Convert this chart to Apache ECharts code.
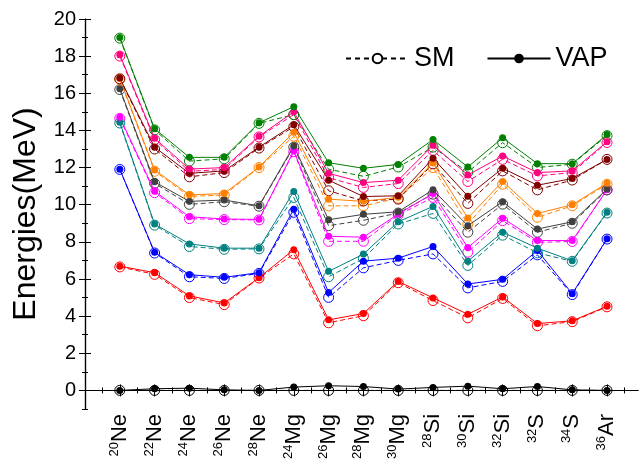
<!DOCTYPE html>
<html>
<head>
<meta charset="utf-8">
<script src="https://cdn.jsdelivr.net/npm/echarts@6/dist/echarts.min.js"></script>
<style>
html,body{margin:0;padding:0;background:#fff;}
#chart{width:641px;height:462px;}
</style>
</head>
<body>
<div id="chart"></div>
<script>
// Categories (nuclei): mass number + element symbol
const massNumbers = ['20','22','24','26','28','24','26','28','30','28','30','32','32','34','36'];
const elements    = ['Ne','Ne','Ne','Ne','Ne','Mg','Mg','Mg','Mg','Si','Si','Si','S','S','Ar'];

// Y tick labels
const yTicks = [0,2,4,6,8,10,12,14,16,18,20];

// Series values (MeV) — SM (dashed, open circles) and VAP (solid, filled dots)
const blackVAP   = [0,0.09,0.12,0.03,0.0,0.18,0.25,0.21,0.07,0.16,0.23,0.09,0.21,0.03,0];
const blackSM    = [0,0,0,0,0,0,0,0,0,0,0,0,0,0,0];
const redVAP     = [6.69,6.34,5.09,4.71,6.07,7.58,3.80,4.14,5.87,4.98,4.10,5.03,3.60,3.75,4.53];
const redSM      = [6.65,6.25,5.00,4.62,6.05,7.35,3.64,4.02,5.80,4.84,3.91,4.95,3.48,3.70,4.50];
const blueVAP    = [11.91,7.44,6.23,6.09,6.34,9.76,5.27,6.96,7.12,7.75,5.73,5.98,7.53,5.21,8.16];
const blueSM     = [11.90,7.40,6.12,6.03,6.30,9.59,5.01,6.60,7.00,7.35,5.52,5.87,7.30,5.16,8.15];
const tealVAP    = [14.44,8.96,7.89,7.66,7.66,10.71,6.41,7.34,9.08,9.91,6.96,8.52,7.66,6.98,9.59];
const tealSM     = [14.40,8.90,7.75,7.60,7.62,10.39,6.12,7.10,8.96,9.53,6.73,8.36,7.41,6.95,9.55];
const magentaVAP = [14.71,10.73,9.35,9.23,9.21,12.90,8.30,8.25,9.50,10.60,7.69,9.27,8.07,8.07,10.80];
const magentaSM  = [14.65,10.65,9.25,9.20,9.18,12.85,8.03,8.03,9.45,10.39,7.44,9.14,7.97,8.02,10.80];
const grayVAP    = [16.25,11.23,10.18,10.25,9.94,13.16,9.19,9.48,9.62,10.80,8.87,10.16,8.69,9.08,10.84];
const graySM     = [16.20,11.15,10.02,10.16,9.92,13.10,8.87,9.16,9.55,10.57,8.52,10.03,8.52,9.00,10.80];
const orangeVAP  = [16.80,11.87,10.53,10.60,12.03,13.90,10.30,10.18,10.40,12.25,9.28,11.25,9.53,10.00,11.16];
const orangeSM   = [16.75,11.80,10.45,10.52,12.00,13.69,9.94,9.94,10.35,12.00,8.95,11.10,9.32,9.94,11.10];
const maroonVAP  = [16.82,13.10,11.69,11.82,13.10,14.30,11.32,10.44,10.48,12.50,10.46,11.96,11.05,11.41,12.44];
const maroonSM   = [16.78,13.00,11.50,11.73,13.05,14.20,10.75,10.20,10.30,12.20,10.07,11.82,10.80,11.33,12.44];
const pinkVAP    = [18.07,13.58,11.92,12.00,13.69,15.00,11.69,11.19,11.32,13.20,11.60,12.62,11.73,11.82,13.39];
const pinkSM     = [18.00,13.50,11.80,11.90,13.65,14.85,11.45,10.93,11.14,12.92,11.25,12.44,11.55,11.73,13.35];
const greenVAP   = [19.01,14.09,12.55,12.55,14.41,15.28,12.26,11.96,12.17,13.51,12.03,13.60,12.21,12.21,13.78];
const greenSM    = [18.97,14.03,12.35,12.47,14.38,14.85,11.91,11.53,12.03,13.10,11.75,13.34,12.00,12.18,13.72];

const groups = [
  {color:'#000000', sm:blackSM,   vap:blackVAP},
  {color:'#FF0000', sm:redSM,     vap:redVAP},
  {color:'#0000FF', sm:blueSM,    vap:blueVAP},
  {color:'#008080', sm:tealSM,    vap:tealVAP},
  {color:'#FF00FF', sm:magentaSM, vap:magentaVAP},
  {color:'#404040', sm:graySM,    vap:grayVAP},
  {color:'#FF8000', sm:orangeSM,  vap:orangeVAP},
  {color:'#800000', sm:maroonSM,  vap:maroonVAP},
  {color:'#FF0080', sm:pinkSM,    vap:pinkVAP},
  {color:'#008000', sm:greenSM,   vap:greenVAP}
];

const xPos = massNumbers.map((_, i) => i + 1);
const xMinor = [];
for (let i = 0; i <= 15; i++) xMinor.push(i + 0.5);
const yMinor = [];
for (let v = -1; v <= 19; v += 2) yMinor.push(v);

const FONT = 'Liberation Sans, Arial, sans-serif';
const toData = arr => arr.map((v, i) => [xPos[i], v]);

const series = [];
groups.forEach(g => {
  series.push({
    type:'line', name:'SM_' + g.color, data: toData(g.sm),
    symbol:'circle', symbolSize:10, z:2,
    itemStyle:{color:'rgba(255,255,255,0)', borderColor:g.color, borderWidth:1},
    lineStyle:{color:g.color, width:1, type:[5,3]},
    emphasis:{disabled:true}
  });
  series.push({
    type:'line', name:'VAP_' + g.color, data: toData(g.vap),
    symbol:'circle', symbolSize:7, z:3,
    itemStyle:{color:g.color, borderWidth:0},
    lineStyle:{color:g.color, width:1, type:'solid'},
    emphasis:{disabled:true}
  });
});
// legend-only series
series.push({
  type:'line', name:'SM', data:[], symbol:'circle', symbolSize:9,
  itemStyle:{color:'#fff', borderColor:'#000', borderWidth:1},
  lineStyle:{color:'#000', width:1, type:[5,4]}
});
series.push({
  type:'line', name:'VAP', data:[], symbol:'circle', symbolSize:6,
  itemStyle:{color:'#000', borderWidth:0},
  lineStyle:{color:'#000', width:1, type:'solid'}
});

const GRID = {left:85, top:19, width:553, height:392};
const xBase = {type:'value', min:0, max:15.89, gridIndex:0, splitLine:{show:false}};
const yBase = {type:'value', min:-1, max:20, gridIndex:0, splitLine:{show:false}};
const line = {show:true, lineStyle:{color:'#000', width:1.2}};
const noLabel = {show:false};

const option = {
  animation:false,
  backgroundColor:'#fff',
  grid:[GRID],
  legend:{
    data:['SM','VAP'], left:340, top:40, itemWidth:63, itemHeight:12, itemGap:32,
    textStyle:{fontSize:27, color:'#000', fontFamily:FONT},
    selectedMode:false
  },
  xAxis:[
    Object.assign({}, xBase, {position:'bottom', axisLine:line,
      axisTick:{show:true, inside:true, length:6, customValues:xPos, lineStyle:{color:'#000'}},
      axisLabel:{show:true, customValues:xPos, rotate:90, margin:5, color:'#000',
        formatter: v => { const i = Math.round(v) - 1; return '{s|' + massNumbers[i] + '}{e|' + elements[i] + '}'; },
        rich:{
          s:{fontSize:13, fontFamily:FONT, color:'#000', verticalAlign:'top', lineHeight:24},
          e:{fontSize:22, fontFamily:FONT, color:'#000', lineHeight:24}
        }}}),
    Object.assign({}, xBase, {position:'bottom', axisLine:{show:false},
      axisTick:{show:true, inside:true, length:3, customValues:xMinor, lineStyle:{color:'#000'}},
      axisLabel:noLabel}),
    Object.assign({}, xBase, {position:'top', axisLine:line,
      axisTick:{show:true, inside:true, length:6, customValues:xPos, lineStyle:{color:'#000'}},
      axisLabel:noLabel}),
    Object.assign({}, xBase, {position:'top', axisLine:{show:false},
      axisTick:{show:true, inside:true, length:3, customValues:xMinor, lineStyle:{color:'#000'}},
      axisLabel:noLabel})
  ],
  yAxis:[
    Object.assign({}, yBase, {position:'left', axisLine:line,
      name:'Energies(MeV)', nameLocation:'middle', nameRotate:90, nameGap:43,
      nameTextStyle:{fontSize:32, fontFamily:FONT, color:'#000'},
      axisTick:{show:true, inside:true, length:6, customValues:yTicks, lineStyle:{color:'#000'}},
      axisLabel:{show:true, customValues:yTicks, margin:9, fontSize:20, fontFamily:FONT, color:'#000'}}),
    Object.assign({}, yBase, {position:'left', axisLine:{show:false},
      axisTick:{show:true, inside:true, length:3, customValues:yMinor, lineStyle:{color:'#000'}},
      axisLabel:noLabel}),
    Object.assign({}, yBase, {position:'right', axisLine:line,
      axisTick:{show:true, inside:true, length:6, customValues:yTicks, lineStyle:{color:'#000'}},
      axisLabel:noLabel}),
    Object.assign({}, yBase, {position:'right', axisLine:{show:false},
      axisTick:{show:true, inside:true, length:3, customValues:yMinor, lineStyle:{color:'#000'}},
      axisLabel:noLabel})
  ],
  series: series
};

const chart = echarts.init(document.getElementById('chart'), null, {renderer:'canvas'});
chart.setOption(option);
</script>
</body>
</html>
